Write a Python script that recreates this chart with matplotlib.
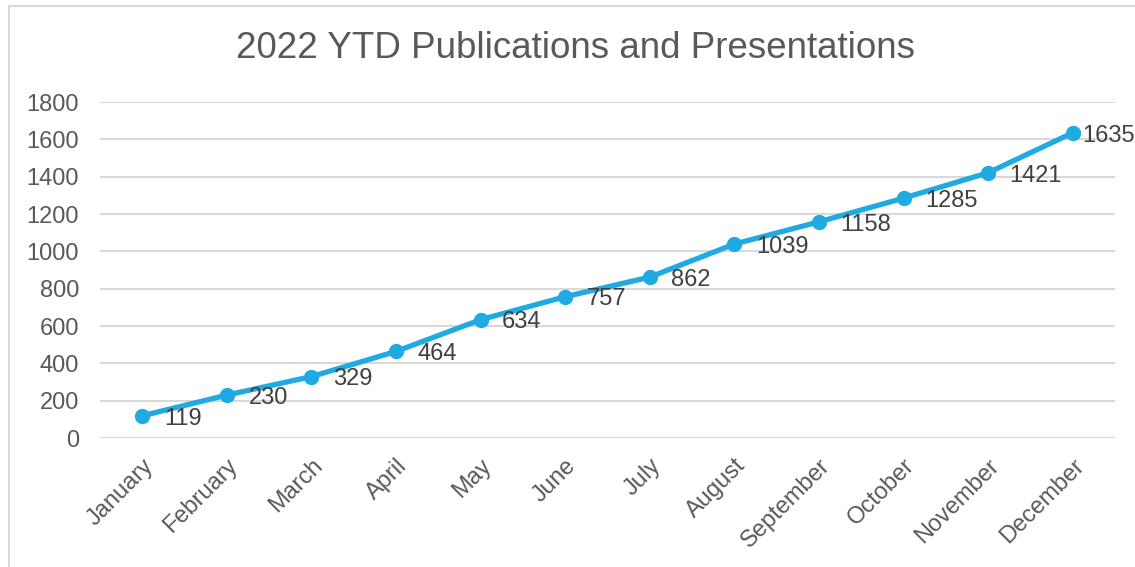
import matplotlib
matplotlib.use('Agg')
import matplotlib.pyplot as plt
from matplotlib.patches import Rectangle

plt.rcParams['font.family'] = ['Liberation Sans', 'DejaVu Sans']

# monthly year-to-date totals
months = ['January', 'February', 'March', 'April', 'May', 'June', 'July',
          'August', 'September', 'October', 'November', 'December']
ytd = [119, 230, 329, 464, 634, 757, 862, 1039, 1158, 1285, 1421, 1635]
yticks = [0, 200, 400, 600, 800, 1000, 1200, 1400, 1600, 1800]

txt = '#595959'
lbl = '#404040'
blue = '#1FAAE3'

fig = plt.figure(figsize=(11.35, 5.67), dpi=100)
ax = fig.add_axes([0.0881, 0.2275, 0.8943, 0.5926])

# chart border
fig.patches.append(Rectangle((9/1135, -0.05), 1.2, 1 - 6/567 + 0.05,
                             transform=fig.transFigure, fill=False,
                             edgecolor='#D9D9D9', linewidth=1.5))

x = list(range(len(months)))
ax.plot(x, ytd, color=blue, linewidth=3.8, marker='o', markersize=10,
        solid_capstyle='round', zorder=3)

for xi, v in zip(x, ytd):
    # last label is pushed in toward the point, like the chart edge forces it
    dx = 7 if xi == x[-1] else 15.5
    ax.annotate(str(v), (xi, v), xytext=(dx, -2), textcoords='offset points',
                ha='left', va='center', fontsize=17, color=lbl,
                annotation_clip=False)

ax.set_xlim(-0.5, len(months) - 0.5)
ax.set_ylim(0, 1800)
ax.set_yticks(yticks)
ax.set_xticks(x)
ax.set_xticklabels(months, rotation=45, ha='right', rotation_mode='anchor')
ax.tick_params(axis='both', length=0, labelsize=17, labelcolor=txt)
ax.tick_params(axis='y', pad=15)
ax.tick_params(axis='x', pad=12)
ax.grid(axis='y', color='#D9D9D9', linewidth=1.5)
ax.set_axisbelow(True)
for s in ax.spines.values():
    s.set_visible(False)

fig.text(576/1135, 1 - 49/567, '2022 YTD Publications and Presentations',
         ha='center', va='center', fontsize=26.5, color=txt)

fig.savefig('out.png', dpi=100)
